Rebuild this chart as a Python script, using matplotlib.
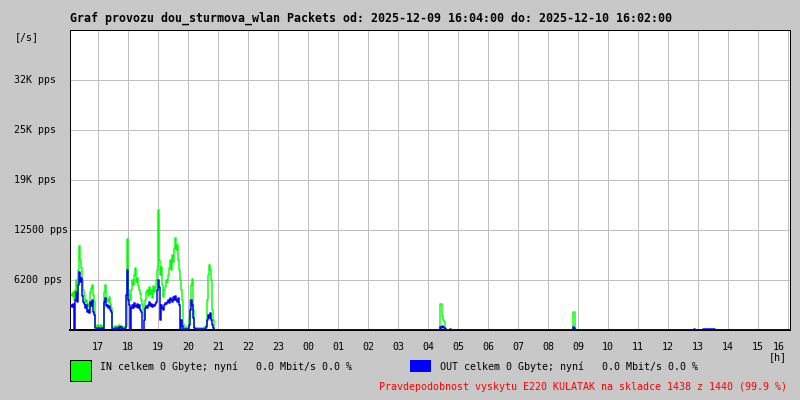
import matplotlib
matplotlib.use("Agg")
import matplotlib.pyplot as plt
import matplotlib.transforms as mtransforms
from matplotlib.patches import Rectangle
import numpy as np

# ---------------- data ----------------
title = "Graf provozu dou_sturmova_wlan Packets od: 2025-12-09 16:04:00 do: 2025-12-10 16:02:00"
start_time = "16:04"          # first sample, 2-minute step
step_minutes = 2
n_samples = 720

# IN / OUT packets per second, evening period from 16:04 (2-minute samples)
in_evening = [
    4375, 4500, 4250, 4750, 3750, 5000, 6250, 4375, 7500, 10500,
    8750, 7750, 6250, 5000, 4375, 3500, 3750, 3000, 3250, 2750,
    4750, 5250, 5625, 4375, 3500, 500, 500, 625, 375, 500,
    625, 375, 500, 375, 4750, 5625, 4000, 3750, 3500, 4125,
    3250, 2750, 375, 250, 375, 500, 375, 500, 250, 625,
    375, 500, 250, 375, 250, 375, 500, 11375, 5000, 4375,
    3750, 5000, 6250, 5625, 6875, 7750, 6000, 6500, 5500, 5000,
    4500, 3750, 3125, 2500, 1500, 3750, 4750, 5000, 4250, 5375,
    4500, 5000, 4000, 5500, 4750, 5250, 6250, 7500, 15000, 8750,
    6875, 7875, 5625, 4125, 5000, 5375, 6250, 6000, 6875, 7750,
    8750, 7500, 9375, 8500, 10250, 11500, 10000, 10625, 8750, 7500,
    6250, 5000, 3750, 750, 375, 250, 375, 250, 250, 1500,
    3750, 5625, 6375, 2500, 375, 250, 125, 250, 125, 250,
    125, 250, 125, 250, 375, 250, 625, 3750, 6875, 8125,
    7500, 6250, 2500, 1250, 0, 0, 0,
]
out_evening = [
    3000, 3125, 2875, 3250, 0, 3750, 4750, 3500, 5625, 7250,
    6000, 6500, 4250, 3500, 3250, 2750, 3125, 2250, 2500, 2125,
    3500, 3000, 3750, 2250, 1875, 250, 250, 250, 125, 250,
    250, 125, 250, 125, 3500, 4000, 3000, 3125, 2750, 3000,
    2500, 2250, 125, 125, 125, 250, 250, 250, 125, 375,
    250, 375, 125, 125, 125, 250, 4375, 7500, 3750, 3125,
    0, 2750, 3125, 2750, 3375, 3000, 2875, 3250, 2750, 3125,
    2500, 2250, 0, 0, 1250, 2750, 3000, 2750, 3125, 3500,
    3000, 3250, 2875, 3125, 3000, 3250, 3500, 5000, 6250, 5375,
    1250, 3125, 2750, 2500, 3125, 3375, 3250, 3500, 3750, 3375,
    4000, 3750, 3500, 4125, 3750, 4250, 3750, 3500, 4000, 3125,
    0, 1250, 500, 0, 125, 125, 0, 125, 0, 625,
    2500, 3750, 3125, 1500, 250, 125, 0, 125, 0, 125,
    0, 125, 0, 125, 125, 125, 375, 1250, 1875, 1500,
    2125, 1250, 625, 250, 0, 0, 0,
]

# isolated later activity
spike_times = ["04:24", "04:26", "04:28", "04:30", "04:32", "04:34", "04:44",
               "08:50", "08:52", "12:52",
               "13:10", "13:12", "13:14", "13:16", "13:18", "13:20",
               "13:22", "13:24", "13:26", "13:28", "13:30", "13:32"]
spike_in = [3250, 3250, 1750, 1250, 1000, 250, 0,
            2250, 2250, 0,
            0, 0, 0, 0, 0, 0, 0, 0, 0, 0, 0, 0]
spike_out = [375, 250, 500, 375, 250, 125, 125,
             375, 250, 125,
             125, 125, 125, 125, 125, 125, 125, 125, 125, 125, 125, 125]

hour_labels = ["17", "18", "19", "20", "21", "22", "23", "00", "01", "02", "03", "04",
               "05", "06", "07", "08", "09", "10", "11", "12", "13", "14", "15", "16"]
y_ticks = [6250, 12500, 18750, 25000, 31250]
y_tick_labels = ["6200 pps", "12500 pps", "19K pps", "25K pps", "32K pps"]
y_max = 37500

legend_in = "IN celkem 0 Gbyte; nyní   0.0 Mbit/s 0.0 %"
legend_out = "OUT celkem 0 Gbyte; nyní   0.0 Mbit/s 0.0 %"
footer = "Pravdepodobnost vyskytu E220 KULATAK na skladce 1438 z 1440 (99.9 %)"

# ---------------- helpers ----------------
def to_hour(s):
    h, m = map(int, s.split(":"))
    v = h + m / 60.0
    if v < 16:
        v += 24
    return v

t0 = to_hour(start_time)
times = t0 + np.arange(n_samples) * step_minutes / 60.0
in_all = np.zeros(n_samples)
out_all = np.zeros(n_samples)
in_all[:len(in_evening)] = in_evening
out_all[:len(out_evening)] = out_evening
for ts, vi, vo in zip(spike_times, spike_in, spike_out):
    idx = int(round((to_hour(ts) - t0) * 60 / step_minutes))
    in_all[idx] = vi
    out_all[idx] = vo

# ---------------- figure ----------------
W, H = 800, 400
BG = "#c8c8c8"
GRID = "#c0c0c0"
MONO = "DejaVu Sans Mono"
px = 0.72  # 1 pixel in points at 100 dpi

fig = plt.figure(figsize=(W / 100, H / 100), dpi=100)
fig.patch.set_facecolor(BG)
ax = fig.add_axes([70 / W, 1 - 330 / H, 720 / W, 300 / H])
ax.set_facecolor("white")

ax.set_xlim(t0, t0 + 24)
ax.set_ylim(0, y_max)

hour_pos = [17 + i for i in range(len(hour_labels))]
for hp in hour_pos:
    ax.axvline(hp, color=GRID, lw=1 * px, zorder=1, antialiased=False)
for yt in y_ticks:
    ax.axhline(yt, color=GRID, lw=1 * px, zorder=1, antialiased=False)

ax.plot(times, in_all, drawstyle="steps-post", color="#00ff00", lw=1.4 * px, zorder=2)
ax.plot(times, out_all, drawstyle="steps-post", color="#0000ff", lw=1.5 * px, zorder=3)

ax.set_xticks([])
ax.set_yticks([])
for name, sp in ax.spines.items():
    sp.set_color("black")
    sp.set_linewidth(1 * px)
    sp.set_antialiased(False)
ax.spines["bottom"].set_linewidth(2 * px)

# y labels (left aligned at fixed x)
ytrans = mtransforms.blended_transform_factory(fig.transFigure, ax.transData)
for yt, lab in zip(y_ticks, y_tick_labels):
    ax.text(14 / W, yt, lab, transform=ytrans, ha="left", va="center",
            family=MONO, fontsize=7.2, color="black", clip_on=False)

# x labels
xtrans = mtransforms.blended_transform_factory(ax.transData, fig.transFigure)
for hp, lab in zip(hour_pos, hour_labels):
    xp = hp if hp < 40 else hp - 0.3
    ax.text(xp, 1 - 347 / H, lab, transform=xtrans, ha="center", va="center",
            family=MONO, fontsize=7.2, color="black", clip_on=False)

fig.text(787 / W, 1 - 357 / H, "[h]", ha="right", va="center", family=MONO, fontsize=7.2)
fig.text(15 / W, 1 - 37 / H, "[/s]", ha="left", va="center", family=MONO, fontsize=7.2)
fig.text(70 / W, 1 - 18 / H, title, ha="left", va="center", family=MONO,
         fontsize=8.4, fontweight="bold")

# legend
fig.patches.append(Rectangle((70 / W, 1 - 381 / H), 21 / W, 21 / H, transform=fig.transFigure,
                             facecolor="#00ff00", edgecolor="black", lw=1 * px))
fig.patches.append(Rectangle((410 / W, 1 - 372 / H), 21 / W, 12 / H, transform=fig.transFigure,
                             facecolor="#0000ff", edgecolor="none"))
fig.text(100 / W, 1 - 367 / H, legend_in, ha="left", va="center", family=MONO, fontsize=7.2)
fig.text(440 / W, 1 - 367 / H, legend_out, ha="left", va="center", family=MONO, fontsize=7.2)
fig.text(787 / W, 1 - 387 / H, footer, ha="right", va="center", family=MONO,
         fontsize=7.2, color="#ff0000")

fig.savefig("out.png", dpi=100, facecolor=BG)
